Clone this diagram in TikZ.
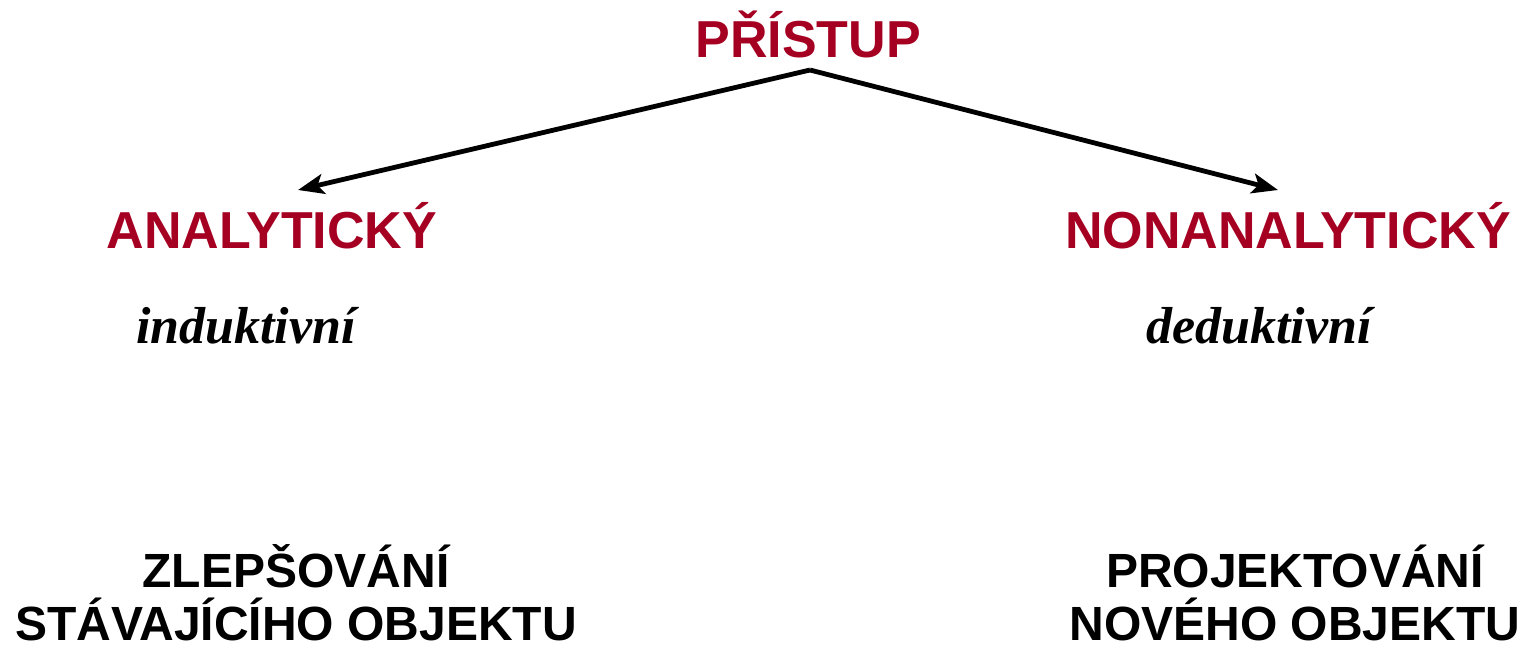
\documentclass[tikz,border=0pt]{standalone}
\usepackage{fontspec}
\setmainfont{Liberation Sans}
\newfontfamily\serifit{Liberation Serif}
\usetikzlibrary{arrows.meta}
\definecolor{approachred}{HTML}{A50021}

\begin{document}
\begin{tikzpicture}[
		x=0.5pt, y=-0.5pt,
		every node/.style={inner sep=0pt, anchor=base},
		heading/.style={font=\fontsize{26}{30}\selectfont\bfseries, text=approachred},
		method/.style={font=\fontsize{26}{30}\selectfont\serifit\bfseries\itshape},
		result/.style={font=\fontsize{24}{26.5}\selectfont\bfseries, align=center, text depth=0pt},
		branch/.style={line width=2.4pt, -{Stealth[length=13pt,width=10pt,inset=3pt]}}
		]
		\useasboundingbox (0,0) rectangle (1528,649);
		% top
		\node[heading] (approach) at (808,57) {PŘÍSTUP};
		\coordinate (apex) at (810,70);
		% the two ways
		\node[heading] (analytic) at (272,248) {ANALYTICKÝ};
		\node[heading] (nonanalytic) at (1288,248) {NONANALYTICKÝ};
		\coordinate (lefttip) at (298,190);
		\coordinate (righttip) at (1278,190);
		\node[method] (inductive) at (246,343) {induktivní};
		\node[method] (deductive) at (1259,343) {deduktivní};
		\node[result] (improve) at (296,640) {ZLEPŠOVÁNÍ\\STÁVAJÍCÍHO OBJEKTU};
		\node[result] (design) at (1295,640) {PROJEKTOVÁNÍ\\NOVÉHO OBJEKTU};
		% arrows
		\draw[branch] (apex) -- (lefttip);
		\draw[branch] (apex) -- (righttip);
		\end{tikzpicture}
\end{document}
